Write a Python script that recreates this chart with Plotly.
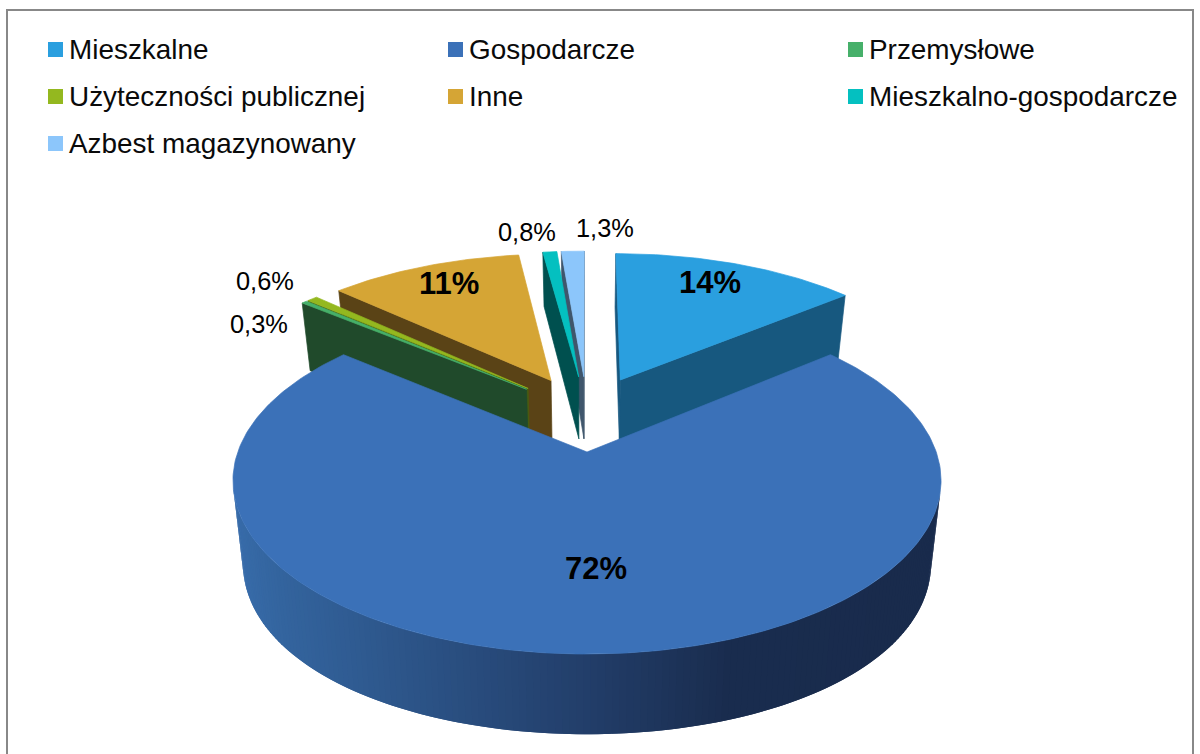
import math
import plotly.graph_objects as go

categories = ["Mieszkalne", "Gospodarcze", "Przemysłowe", "Użyteczności publicznej",
              "Inne", "Mieszkalno-gospodarcze", "Azbest magazynowany"]
values = [14, 72, 0.3, 0.6, 11, 0.8, 1.3]
value_labels = ["14%", "72%", "0,3%", "0,6%", "11%", "0,8%", "1,3%"]
top_colors = ["#2a9fdf", "#3b71b8", "#46b06a", "#94b81f", "#d5a535", "#04c0c0", "#8cc6fb"]
wall_colors = ["#17587f", None, "#204a2b", "#4a5c10", "#5a4316", "#00504f", "#3f566c"]

# projection of the pie plane on the page
CX, CY = 587.0, 452.0
A, B, K = 349.2, 168.7, 0.165
DEPTH, SHRINK, SPREAD = 67.0, 0.972, 0.2
EXPLODE = 0.241


def top(u, v):
    w = 1 + K * v
    return CX + A * u / w, CY - B * v / w


def bottom(u, v):
    w = 1 + K * v
    return CX + SHRINK * A * u / w, CY - B * v / w + DEPTH * (1 + SPREAD * u * u) / w


def lerp(c1, c2, t):
    return tuple(c1[i] + (c2[i] - c1[i]) * t for i in range(3))


def blue_shade(x):
    stops = [(233, (56, 108, 170)), (275, (52, 101, 159)), (582, (35, 63, 107)),
             (727, (26, 45, 79)), (941, (25, 43, 76))]
    for (x0, c0), (x1, c1) in zip(stops, stops[1:]):
        if x <= x1:
            c = lerp(c0, c1, max(0, (x - x0) / (x1 - x0)))
            return "rgb(%d,%d,%d)" % c
    return "rgb(25,43,76)"


def area(pts):
    s = 0
    for i in range(len(pts)):
        x0, y0 = pts[i]
        x1, y1 = pts[(i + 1) % len(pts)]
        s += x0 * y1 - x1 * y0
    return s


total = sum(values)
slices = []
cum = 0
for i, val in enumerate(values):
    a0 = cum / total * 2 * math.pi
    cum += val
    a1 = cum / total * 2 * math.pi
    mid = (a0 + a1) / 2
    # every slice moves out along its bisector; the big slice's tip is the origin
    ou = EXPLODE * math.sin(mid)
    ov = EXPLODE + EXPLODE * math.cos(mid)
    n = max(2, int((a1 - a0) / math.radians(1.0)))
    rim = [(ou + math.sin(a0 + (a1 - a0) * j / n), ov + math.cos(a0 + (a1 - a0) * j / n))
           for j in range(n + 1)]
    slices.append(dict(i=i, tip=(ou, ov), rim=rim))

fig = go.Figure()


def poly(pts, color, name, width=0.7):
    xs = [p[0] for p in pts] + [pts[0][0]]
    ys = [p[1] for p in pts] + [pts[0][1]]
    fig.add_trace(go.Scatter(x=xs, y=ys, mode="lines", fill="toself", fillcolor=color,
                             line=dict(color=color, width=width), hoverinfo="skip",
                             showlegend=False, name=name))


# back slices first, so the nearer ones paint over them
for s in sorted(slices, key=lambda d: -d["tip"][1]):
    i = s["i"]
    outline = [s["tip"]] + s["rim"]
    m = len(outline)
    for j in range(m):
        p, q = outline[j], outline[(j + 1) % m]
        quad = [top(*p), top(*q), bottom(*q), bottom(*p)]
        if area(quad) < 0:
            if wall_colors[i]:
                poly(quad, wall_colors[i], categories[i])
            else:
                # gradient wall: each strip overlaps the next one to hide seams
                color = blue_shade((quad[0][0] + quad[1][0]) / 2)
                q2 = outline[j + 2] if j + 2 < m else q
                poly([top(*p), top(*q2), bottom(*q2), bottom(*p)], color, categories[i], width=0)
    poly([top(*p) for p in outline], top_colors[i], categories[i])

# legend: swatches in three columns
col_x = [48, 448, 848]
row_y = [49.5, 96.5, 143.5]
annotations = []
for i, name in enumerate(categories):
    c, r = i % 3, i // 3
    fig.add_trace(go.Scatter(x=[col_x[c] + 7.5], y=[row_y[r]], mode="markers",
                             marker=dict(symbol="square", size=15, color=top_colors[i], line=dict(width=0)),
                             showlegend=False, hoverinfo="skip", name=name))
    annotations.append(dict(x=col_x[c] + 19, y=row_y[r], text=name, showarrow=False,
                            xanchor="left", yanchor="middle", xref="x", yref="y",
                            font=dict(size=27.9, color="#0a0a0a", family="Liberation Sans")))

label_pos = [(710, 282), (596, 568), (259, 324), (265, 281), (449, 283), (527, 232), (605, 228)]
for i, lab in enumerate(value_labels):
    bold = lab in ("14%", "72%", "11%")
    annotations.append(dict(x=label_pos[i][0], y=label_pos[i][1],
                            text="<b>%s</b>" % lab if bold else lab, showarrow=False,
                            xanchor="center", yanchor="middle", xref="x", yref="y",
                            font=dict(size=31 if bold else 25.4, color="#000000", family="Liberation Sans")))

fig.update_layout(
    width=1200, height=754, autosize=False,
    margin=dict(l=0, r=0, t=0, b=0),
    paper_bgcolor="white", plot_bgcolor="white",
    xaxis=dict(range=[0, 1200], visible=False, fixedrange=True),
    yaxis=dict(range=[754, 0], visible=False, fixedrange=True),
    annotations=annotations,
    shapes=[dict(type="rect", xref="x", yref="y", x0=7, y0=10, x1=1193, y1=800,
                 line=dict(color="#888888", width=2), layer="below")],
)
fig.write_html("out.html", config=dict(displayModeBar=False),
               post_script="document.body.style.margin='0';document.body.style.overflow='hidden';")
